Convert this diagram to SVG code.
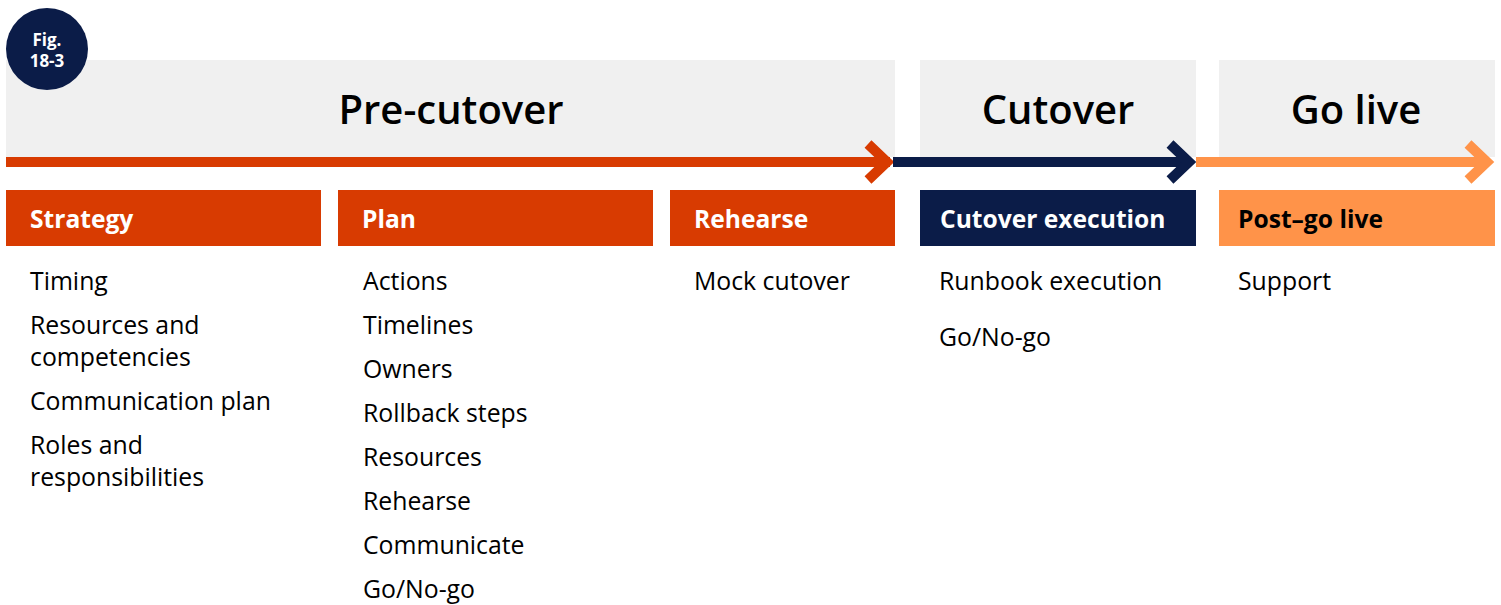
<svg xmlns="http://www.w3.org/2000/svg" width="1501" height="605" viewBox="0 0 1501 605">
<style>
.band{fill:#F0F0F0}
.title{font-family:"Open Sans","Noto Sans",sans-serif;font-size:40px;font-weight:600;fill:#000;text-anchor:middle}
.hdr{font-family:"Open Sans","Noto Sans",sans-serif;font-size:24.6px;font-weight:700}
.body{font-family:"Open Sans","Noto Sans",sans-serif;font-size:24.8px;fill:#000}
.w{fill:#fff}
.k{fill:#000}
.ln{fill:none;stroke-width:10}
.badge{font-family:"Open Sans","Noto Sans",sans-serif;font-size:17px;font-weight:700;fill:#fff;text-anchor:middle}
</style>
<rect width="1501" height="605" fill="#fff"/>
<g id="bands">
<rect class="band" x="6" y="60" width="889" height="97"/>
<rect class="band" x="920" y="60" width="276" height="97"/>
<rect class="band" x="1219" y="60" width="276" height="97"/>
<text class="title" x="451" y="124">Pre-cutover</text>
<text class="title" x="1058" y="124">Cutover</text>
<text class="title" x="1356" y="124">Go live</text>
</g>
<g id="connectors">
<line class="ln" x1="6" y1="162" x2="890" y2="162" stroke="#D83B01"/>
<polyline class="ln" points="868,144 887,162 868,180" stroke="#D83B01"/>
<line class="ln" x1="893" y1="162" x2="1190" y2="162" stroke="#0B1C48"/>
<polyline class="ln" points="1170,144 1189,162 1170,180" stroke="#0B1C48"/>
<line class="ln" x1="1196" y1="162" x2="1488" y2="162" stroke="#FF9349"/>
<polyline class="ln" points="1468,144 1487,162 1468,180" stroke="#FF9349"/>
</g>
<g id="badge">
<circle cx="47" cy="49" r="41" fill="#0B1C48"/>
<text class="badge" x="47" y="46">Fig.</text>
<text class="badge" x="47" y="67">18-3</text>
</g>
<g id="strategy">
<rect x="6" y="190" width="315" height="56" fill="#D83B01"/>
<text class="hdr w" x="30" y="228">Strategy</text>
<text class="body" x="30" y="290">Timing</text>
<text class="body" x="30" y="334">Resources and</text>
<text class="body" x="30" y="366">competencies</text>
<text class="body" x="30" y="410">Communication plan</text>
<text class="body" x="30" y="454">Roles and</text>
<text class="body" x="30" y="486">responsibilities</text>
</g>
<g id="plan">
<rect x="338" y="190" width="315" height="56" fill="#D83B01"/>
<text class="hdr w" x="362" y="228">Plan</text>
<text class="body" x="363" y="290">Actions</text>
<text class="body" x="363" y="334">Timelines</text>
<text class="body" x="363" y="378">Owners</text>
<text class="body" x="363" y="422">Rollback steps</text>
<text class="body" x="363" y="466">Resources</text>
<text class="body" x="363" y="510">Rehearse</text>
<text class="body" x="363" y="554">Communicate</text>
<text class="body" x="363" y="598">Go/No-go</text>
</g>
<g id="rehearse">
<rect x="670" y="190" width="225" height="56" fill="#D83B01"/>
<text class="hdr w" x="694" y="228">Rehearse</text>
<text class="body" x="694" y="290">Mock cutover</text>
</g>
<g id="cutover-execution">
<rect x="920" y="190" width="276" height="56" fill="#0B1C48"/>
<text class="hdr w" x="940" y="228">Cutover execution</text>
<text class="body" x="939" y="290">Runbook execution</text>
<text class="body" x="939" y="346">Go/No-go</text>
</g>
<g id="post-go-live">
<rect x="1219" y="190" width="276" height="56" fill="#FF9349"/>
<text class="hdr k" x="1238" y="228">Post–go live</text>
<text class="body" x="1238" y="290">Support</text>
</g>
</svg>
